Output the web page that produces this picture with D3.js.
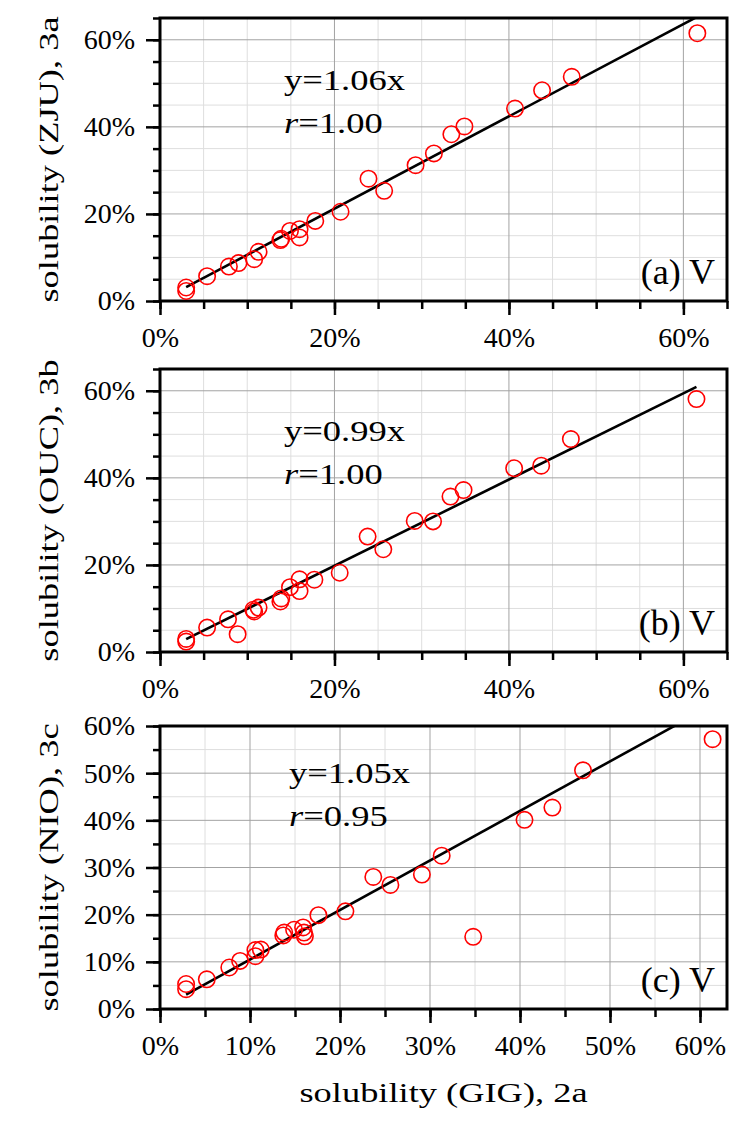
<!DOCTYPE html>
<html>
<head>
<meta charset="utf-8">
<script src="https://cdn.jsdelivr.net/npm/d3@7"></script>
<style>
  html, body { margin: 0; padding: 0; background: #fff; }
  svg { display: block; }
</style>
</head>
<body>
<svg id="chart" width="749" height="1124"></svg>
<script>
// Solubility of V measured by GIG (2a) compared with three other labs.
const xGIG_a = [3.0, 3.0, 5.4, 7.9, 9.0, 10.8, 11.3, 13.8, 13.9, 14.9, 16.0, 16.0, 17.8, 20.7, 23.9, 25.7, 29.3, 31.4, 33.4, 34.9, 40.7, 43.8, 47.2, 61.6];
const yZJU    = [3.1, 2.3, 5.7, 7.9, 8.7, 9.6, 11.3, 14.0, 14.3, 16.1, 16.5, 14.6, 18.4, 20.5, 28.1, 25.3, 31.2, 33.9, 38.3, 40.1, 44.2, 48.4, 51.5, 61.5];

const xGIG_b = [3.0, 3.0, 5.4, 7.8, 8.9, 10.7, 10.8, 11.3, 13.8, 13.9, 14.9, 16.0, 16.0, 17.7, 20.6, 23.8, 25.6, 29.2, 31.3, 33.3, 34.8, 40.6, 43.7, 47.1, 61.5];
const yOUC    = [3.0, 2.4, 5.6, 7.5, 4.1, 9.7, 9.3, 10.2, 11.6, 12.3, 14.9, 16.7, 14.0, 16.6, 18.2, 26.5, 23.6, 30.1, 30.0, 35.7, 37.2, 42.2, 42.8, 48.9, 58.1];

const xGIG_c = [2.9, 2.9, 5.2, 7.7, 8.9, 10.6, 10.6, 11.2, 13.7, 13.8, 14.9, 15.9, 16.0, 16.1, 17.6, 20.6, 23.7, 25.6, 29.1, 31.3, 34.8, 40.5, 43.6, 47.0, 61.4];
const yNIO    = [5.3, 4.2, 6.3, 8.8, 10.2, 12.5, 11.2, 12.6, 15.6, 16.2, 16.8, 17.3, 16.2, 15.4, 19.9, 20.7, 28.0, 26.3, 28.5, 32.5, 15.3, 40.1, 42.7, 50.6, 57.2];

const slopes = [1.06, 0.99, 1.05];
const corrText = ["1.00", "1.00", "0.95"];
const yTitles = ["solubility (ZJU), 3a", "solubility (OUC), 3b", "solubility (NIO), 3c"];
const panelTags = ["(a) V", "(b) V", "(c) V"];
const xTitle = "solubility (GIG), 2a";

const xTicksAB = [0, 20, 40, 60];
const yTicksAB = [0, 20, 40, 60];
const xTicksC = [0, 10, 20, 30, 40, 50, 60];
const yTicksC = [0, 10, 20, 30, 40, 50, 60];

const FONT = '"Liberation Serif", "Times New Roman", serif';

const panels = [
  { x: xGIG_a, y: yZJU, top: 18,  bottom: 301,  xMax: 65, yMax: 65, xTicks: xTicksAB, yTicks: yTicksAB, annY: [90, 133] },
  { x: xGIG_b, y: yOUC, top: 369, bottom: 652,  xMax: 65, yMax: 65, xTicks: xTicksAB, yTicks: yTicksAB, annY: [441, 484] },
  { x: xGIG_c, y: yNIO, top: 726, bottom: 1009, xMax: 63, yMax: 60, xTicks: xTicksC,  yTicks: yTicksC,  annY: [783, 826] }
];

const left = 160, right = 727;
const svg = d3.select("#chart");
const pct = d => d + "%";
const range5 = max => d3.range(0, max + 0.001, 5);

panels.forEach((p, i) => {
  const xs = d3.scaleLinear().domain([0, p.xMax]).range([left, right]);
  const ys = d3.scaleLinear().domain([0, p.yMax]).range([p.bottom, p.top]);
  const g = svg.append("g");

  const clipId = "clip" + i;
  svg.append("defs").append("clipPath").attr("id", clipId)
    .append("rect").attr("x", left).attr("y", p.top)
    .attr("width", right - left).attr("height", p.bottom - p.top);

  // minor grid every 5%
  const minorX = range5(p.xMax).filter(v => !p.xTicks.includes(v) && v > 0 && v < p.xMax);
  const minorY = range5(p.yMax).filter(v => !p.yTicks.includes(v) && v > 0 && v < p.yMax);
  g.selectAll(".gxm").data(minorX).enter().append("line")
    .attr("x1", d => xs(d)).attr("x2", d => xs(d)).attr("y1", p.top).attr("y2", p.bottom)
    .attr("stroke", "#dedede").attr("stroke-width", 1);
  g.selectAll(".gym").data(minorY).enter().append("line")
    .attr("y1", d => ys(d)).attr("y2", d => ys(d)).attr("x1", left).attr("x2", right)
    .attr("stroke", "#dedede").attr("stroke-width", 1);
  // major grid
  g.selectAll(".gxM").data(p.xTicks.filter(v => v > 0 && v < p.xMax)).enter().append("line")
    .attr("x1", d => xs(d)).attr("x2", d => xs(d)).attr("y1", p.top).attr("y2", p.bottom)
    .attr("stroke", "#a3a3a3").attr("stroke-width", 1);
  g.selectAll(".gyM").data(p.yTicks.filter(v => v > 0 && v < p.yMax)).enter().append("line")
    .attr("y1", d => ys(d)).attr("y2", d => ys(d)).attr("x1", left).attr("x2", right)
    .attr("stroke", "#a3a3a3").attr("stroke-width", 1);

  // axes: minor ticks then major ticks with labels
  const styleAxis = sel => {
    sel.attr("font-family", null).attr("font-size", null);
    sel.select(".domain").remove();
    sel.selectAll(".tick line").attr("stroke", "#000").attr("stroke-width", 2.5);
    sel.selectAll(".tick text").style("font-size", "28px")
      .style("font-family", FONT).attr("fill", "#000");
  };
  g.append("g").attr("transform", `translate(${left},0)`)
    .call(d3.axisLeft(ys).tickValues(range5(p.yMax)).tickSize(7).tickFormat(""))
    .call(styleAxis);
  g.append("g").attr("transform", `translate(${left},0)`)
    .call(d3.axisLeft(ys).tickValues(p.yTicks).tickSize(14).tickPadding(11).tickFormat(pct))
    .call(styleAxis);
  g.append("g").attr("transform", `translate(0,${p.bottom})`)
    .call(d3.axisBottom(xs).tickValues(range5(p.xMax)).tickSize(8).tickFormat(""))
    .call(styleAxis);
  g.append("g").attr("transform", `translate(0,${p.bottom})`)
    .call(d3.axisBottom(xs).tickValues(p.xTicks).tickSize(14).tickPadding(12).tickFormat(pct))
    .call(styleAxis);

  // frame
  g.append("rect").attr("x", left).attr("y", p.top)
    .attr("width", right - left).attr("height", p.bottom - p.top)
    .attr("fill", "none").attr("stroke", "#000").attr("stroke-width", 3);

  // fitted line through the origin
  const x0 = d3.min(p.x), x1 = d3.max(p.x);
  g.append("line").attr("clip-path", `url(#${clipId})`)
    .attr("x1", xs(x0)).attr("y1", ys(slopes[i] * x0))
    .attr("x2", xs(x1)).attr("y2", ys(slopes[i] * x1))
    .attr("stroke", "#000").attr("stroke-width", 2.6);

  // data points
  g.selectAll(".pt").data(p.x.map((v, k) => [v, p.y[k]])).enter().append("circle")
    .attr("cx", d => xs(d[0])).attr("cy", d => ys(d[1])).attr("r", 8.2)
    .attr("fill", "none").attr("stroke", "#ff0000").attr("stroke-width", 1.6);

  // regression annotation
  const annX = i === 2 ? 289 : 284;
  g.append("text").attr("transform", `translate(${annX},${p.annY[0]}) scale(1.26,1)`)
    .style("font-family", FONT).style("font-size", "29px")
    .text("y=" + slopes[i].toFixed(2) + "x");
  const rt = g.append("text").attr("transform", `translate(${annX},${p.annY[1]}) scale(1.26,1)`)
    .style("font-family", FONT).style("font-size", "29px");
  rt.append("tspan").style("font-style", "italic").text("r");
  rt.append("tspan").text("=" + corrText[i]);

  // panel tag
  g.append("text").attr("x", 715).attr("y", p.bottom - 17).attr("text-anchor", "end")
    .style("font-family", FONT).style("font-size", "36px").text(panelTags[i]);

  // y title
  g.append("text").attr("transform", `translate(58,${(p.top + p.bottom) / 2}) rotate(-90) scale(1.3,1)`)
    .attr("text-anchor", "middle").style("font-family", FONT).style("font-size", "28px")
    .text(yTitles[i]);
});

svg.append("text").attr("transform", `translate(${(left + right) / 2},1102) scale(1.3,1)`)
  .attr("text-anchor", "middle").style("font-family", FONT).style("font-size", "28px")
  .text(xTitle);
</script>
</body>
</html>
